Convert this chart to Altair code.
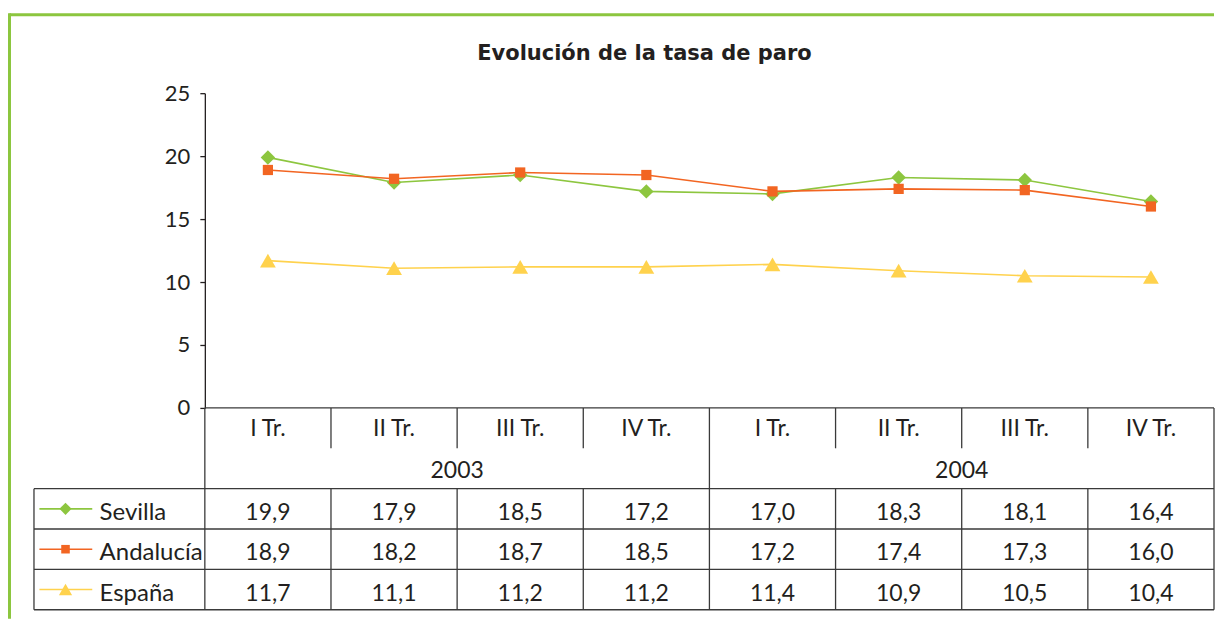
import altair as alt
import pandas as pd

# ---------------- data ----------------
title_text = "Evolución de la tasa de paro"
quarters = ["I Tr.", "II Tr.", "III Tr.", "IV Tr."]
years = ["2003", "2004"]
series_names = ["Sevilla", "Andalucía", "España"]
sevilla = [19.9, 17.9, 18.5, 17.2, 17.0, 18.3, 18.1, 16.4]
andalucia = [18.9, 18.2, 18.7, 18.5, 17.2, 17.4, 17.3, 16.0]
espana = [11.7, 11.1, 11.2, 11.2, 11.4, 10.9, 10.5, 10.4]
y_ticks = [0, 5, 10, 15, 20, 25]

# ---------------- style ----------------
colors = ["#8dc63f", "#f26522", "#ffd24d"]
shapes = ["diamond", "square", "triangle-up"]
sizes = [210, 105, 250]
FONT = "Lato"
INK = "#231f20"
RULE = "#3a3a3a"
FRAME = "#8cc63f"
FS = 23

N = len(sevilla)
PLOT_W = 1010
PLOT_H = 315
TABLE_H = 202
COL_W = PLOT_W / N
LEG_W = 171 / COL_W          # legend column width, in column units
TROWS = 5                    # quarter row, year row, 3 series rows

# ---------------- tables ----------------
recs = []
for k, (name, vals) in enumerate(zip(series_names, [sevilla, andalucia, espana])):
    for i, v in enumerate(vals):
        recs.append({"serie": name, "pos": i + 0.5, "valor": v,
                     "etiqueta": f"{v:.1f}".replace(".", ","), "fila": 2 + k + 0.5})
df = pd.DataFrame(recs)

qdf = pd.DataFrame({"pos": [i + 0.5 for i in range(N)],
                    "fila": [0.5] * N,
                    "txt": [quarters[i % 4] for i in range(N)]})
ydf = pd.DataFrame({"pos": [len(quarters) * (j + 0.5) for j in range(len(years))],
                    "fila": [1.5] * len(years), "txt": years})

hr = pd.DataFrame({"x1": [0, -LEG_W, -LEG_W, -LEG_W, -LEG_W],
                   "x2": [N] * 5, "fila": [0, 2, 3, 4, 5]})
vr_rows = [(0, 0, TROWS), (-LEG_W, 2, TROWS), (N, 0, TROWS), (N / 2, 0, TROWS)]
for c in range(1, N):
    if c == N // 2:
        continue
    vr_rows.append((c, 0, 1))
    vr_rows.append((c, 2, TROWS))
vr = pd.DataFrame(vr_rows, columns=["xp", "f1", "f2"])

ldf = pd.DataFrame({"serie": series_names,
                    "fila": [2.5 + k for k in range(len(series_names))],
                    "x1": [-LEG_W + 0.043] * 3,
                    "x2": [-LEG_W + 0.462] * 3,
                    "xm": [-LEG_W + 0.25] * 3,
                    "xt": [-LEG_W + 0.52] * 3})

# ---------------- scales ----------------
xs = alt.Scale(domain=[0, N], nice=False, zero=False)
ys = alt.Scale(domain=[0, 25], nice=False, zero=True)
ts = alt.Scale(domain=[0, TROWS], range=[PLOT_H, PLOT_H + TABLE_H], nice=False, zero=False)
cs = alt.Scale(domain=series_names, range=colors)

color = alt.Color("serie:N", scale=cs, legend=None)

lines = alt.Chart(df).mark_line(strokeWidth=1.6).encode(
    x=alt.X("pos:Q", scale=xs, axis=None),
    y=alt.Y("valor:Q", scale=ys, axis=alt.Axis(
        values=y_ticks, title=None, grid=False, domainColor=INK, tickColor=INK,
        tickSize=5, domainWidth=1.3, tickWidth=1.3, labelFont=FONT, labelFontSize=22,
        labelColor=INK, labelPadding=10)),
    color=color, detail="serie:N",
)

point_layers = []
legend_points = []
for name, shp, sz in zip(series_names, shapes, sizes):
    point_layers.append(
        alt.Chart(df).transform_filter(alt.datum.serie == name)
        .mark_point(filled=True, opacity=1, shape=shp, size=sz).encode(
            x=alt.X("pos:Q", scale=xs, axis=None),
            y=alt.Y("valor:Q", scale=ys, axis=None),
            color=color))
    legend_points.append(
        alt.Chart(ldf).transform_filter(alt.datum.serie == name)
        .mark_point(filled=True, opacity=1, shape=shp, size=sz * 0.7).encode(
            x=alt.X("xm:Q", scale=xs, axis=None),
            y=alt.Y("fila:Q", scale=ts, axis=None),
            color=color))

hrules = alt.Chart(hr).mark_rule(color=RULE, strokeWidth=1.3).encode(
    x=alt.X("x1:Q", scale=xs, axis=None), x2="x2:Q",
    y=alt.Y("fila:Q", scale=ts, axis=None))
vrules = alt.Chart(vr).mark_rule(color=RULE, strokeWidth=1.3).encode(
    x=alt.X("xp:Q", scale=xs, axis=None),
    y=alt.Y("f1:Q", scale=ts, axis=None), y2="f2:Q")

txt_kw = dict(font=FONT, fontSize=FS, color=INK, baseline="middle", align="center")
qtext = alt.Chart(qdf).mark_text(dy=1, **txt_kw).encode(
    x=alt.X("pos:Q", scale=xs, axis=None), y=alt.Y("fila:Q", scale=ts, axis=None), text="txt:N")
ytext = alt.Chart(ydf).mark_text(dy=3, **txt_kw).encode(
    x=alt.X("pos:Q", scale=xs, axis=None), y=alt.Y("fila:Q", scale=ts, axis=None), text="txt:N")
vtext = alt.Chart(df).mark_text(dy=4, **txt_kw).encode(
    x=alt.X("pos:Q", scale=xs, axis=None), y=alt.Y("fila:Q", scale=ts, axis=None), text="etiqueta:N")

leg_line = alt.Chart(ldf).mark_rule(strokeWidth=1.6).encode(
    x=alt.X("x1:Q", scale=xs, axis=None), x2="x2:Q",
    y=alt.Y("fila:Q", scale=ts, axis=None), color=color)
leg_txt = alt.Chart(ldf).mark_text(font=FONT, fontSize=24, color=INK, baseline="middle",
                                   align="left", dy=4).encode(
    x=alt.X("xt:Q", scale=xs, axis=None), y=alt.Y("fila:Q", scale=ts, axis=None), text="serie:N")

blank = alt.Data(values=[{}])
frame_top = alt.Chart(blank).mark_rule(color=FRAME, strokeWidth=3).encode(
    x=alt.value(-195.5), x2=alt.value(1010), y=alt.value(-78.5))
frame_left = alt.Chart(blank).mark_rule(color=FRAME, strokeWidth=3).encode(
    x=alt.value(-195.5), y=alt.value(-80), y2=alt.value(526))

chart = alt.layer(
    frame_top, frame_left, hrules, vrules, lines, *point_layers,
    qtext, ytext, vtext, leg_line, *legend_points, leg_txt
).resolve_scale(y="independent").properties(
    width=PLOT_W, height=PLOT_H,
    padding={"left": 0, "top": 3, "right": 0, "bottom": 0},
    title=alt.TitleParams(text=title_text, font="DejaVu Sans", fontSize=21, fontWeight="bold",
                          color=INK, anchor="middle", frame="group", dx=-65, offset=-52),
).configure_view(stroke=None)

chart.save("out.html", embed_options={"renderer": "svg", "actions": False})
